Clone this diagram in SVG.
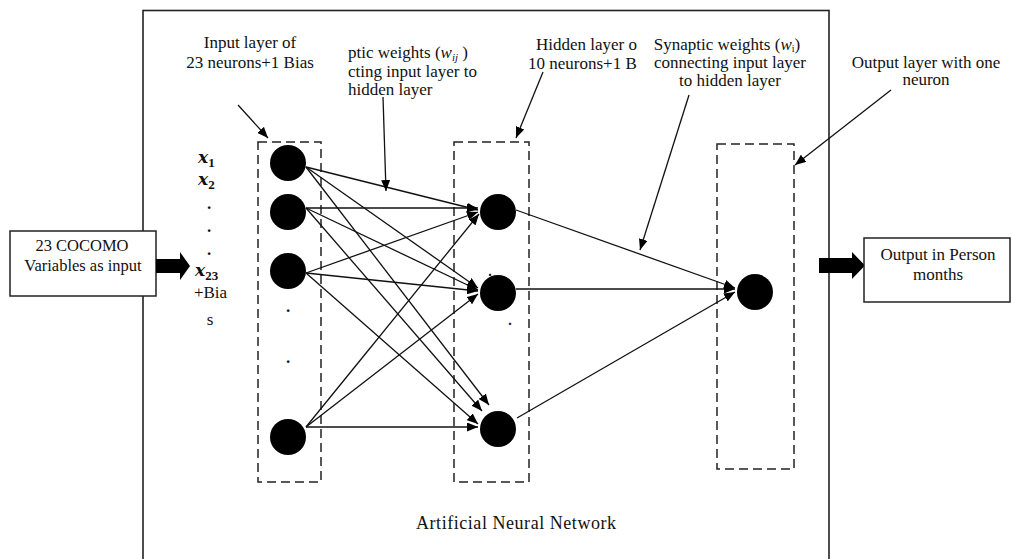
<svg xmlns="http://www.w3.org/2000/svg" width="1012" height="559" viewBox="0 0 1012 559">
<defs>
<style>
text{font-family:"Liberation Serif","Times New Roman",serif;fill:#111;font-size:17px}
.c{text-anchor:middle}
.bx{font-size:16.5px}
.xv{font-family:"DejaVu Serif","Liberation Serif",serif;font-weight:bold;font-style:italic;font-size:17px}
.sub{font-family:"Liberation Serif",serif;font-weight:bold;font-style:normal;font-size:13px}
.it{font-style:italic}
.dot{font-weight:bold;font-size:17px;text-anchor:middle}
.frame{fill:none;stroke:#222;stroke-width:1.6}
.box{fill:#fff;stroke:#222;stroke-width:1.5}
.dash{fill:none;stroke:#222;stroke-width:1.5;stroke-dasharray:9 5}
.neuron{fill:#000}
.ln{stroke:#111;stroke-width:1.3;fill:none;marker-end:url(#arr)}
.bar{fill:#000}
</style>
<marker id="arr" markerUnits="userSpaceOnUse" markerWidth="11" markerHeight="9" viewBox="0 0 11 9" refX="11" refY="4.5" orient="auto">
<path d="M0,0 L11,4.5 L0,9 z" fill="#000"/>
</marker>
</defs>
<rect x="0" y="0" width="1012" height="559" fill="#fff"/>

<g id="frame">
<rect class="frame" x="143" y="10.5" width="686" height="570"/>
<text class="c" x="516" y="529" textLength="200" lengthAdjust="spacing" style="font-size:18px">Artificial Neural Network</text>
</g>

<g id="input-box">
<rect class="box" x="10" y="231" width="146" height="65"/>
<text class="c bx" x="82" y="251">23 COCOMO</text>
<text class="c bx" x="83" y="271">Variables as input</text>
<polygon class="bar" points="156,259 180,259 180,252 190,266 180,280 180,273 156,273"/>
</g>

<g id="input-labels">
<text class="xv" x="198" y="163">x<tspan class="sub" dy="4">1</tspan></text>
<text class="xv" x="198" y="185">x<tspan class="sub" dy="4">2</tspan></text>
<text class="dot" x="209" y="209">.</text>
<text class="dot" x="209" y="232">.</text>
<text class="dot" x="209" y="255">.</text>
<text class="xv" x="195" y="276">x<tspan class="sub" dy="4">23</tspan></text>
<text class="c" x="210.5" y="298">+Bia</text>
<text class="c" x="210" y="325">s</text>
</g>

<g id="input-layer">
<rect class="dash" x="258" y="142" width="63" height="340"/>
<circle class="neuron" cx="288" cy="163" r="18"/>
<circle class="neuron" cx="288" cy="212" r="18"/>
<circle class="neuron" cx="288" cy="271" r="18"/>
<text class="dot" x="288" y="312">.</text>
<text class="dot" x="288" y="363">.</text>
<circle class="neuron" cx="288" cy="437" r="18"/>
</g>

<g id="hidden-layer">
<rect class="dash" x="454" y="142" width="75" height="340"/>
<circle class="neuron" cx="498" cy="212" r="18"/>
<circle class="neuron" cx="498" cy="293" r="18"/>
<circle class="neuron" cx="498" cy="429" r="18"/>
<text class="dot" x="490" y="276" style="font-size:14px">.</text>
<text class="dot" x="510" y="325" style="font-size:14px">.</text>
</g>

<g id="output-layer">
<rect class="dash" x="717" y="144" width="77" height="325"/>
<circle class="neuron" cx="755" cy="292" r="18"/>
</g>

<g id="output-box">
<polygon class="bar" points="819,258 852,258 852,252 865,265.5 852,279 852,273 819,273"/>
<rect class="box" x="864" y="238" width="146" height="64"/>
<text class="c" x="938" y="260">Output in Person</text>
<text class="c" x="938" y="280">months</text>
</g>

<g id="label-input">
<text class="c" x="250" y="48">Input layer of</text>
<text class="c" x="250" y="68">23 neurons+1 Bias</text>
</g>

<g id="label-wij">
<text x="348" y="58">ptic weights (<tspan class="it">w</tspan><tspan class="it" style="font-size:11px" dy="3">ij</tspan><tspan dy="-3"> )</tspan></text>
<text x="348" y="77">cting input layer to</text>
<text x="348" y="95">hidden layer</text>
</g>

<g id="label-hidden">
<text x="536" y="50">Hidden layer o</text>
<text x="528" y="69">10 neurons+1 B</text>
</g>

<g id="label-wi">
<text class="c" x="727" y="50">Synaptic weights (<tspan class="it">w</tspan><tspan style="font-size:10px" dy="2">i</tspan><tspan dy="-2">)</tspan></text>
<text class="c" x="730" y="68">connecting input layer</text>
<text class="c" x="730" y="86">to hidden layer</text>
</g>

<g id="label-output">
<text class="c" x="926" y="68">Output layer with one</text>
<text class="c" x="926" y="85">neuron</text>
</g>

<g id="connectors">
<line class="ln" x1="306" y1="167" x2="478" y2="210"/>
<line class="ln" x1="306" y1="167" x2="478" y2="288"/>
<line class="ln" x1="306" y1="167" x2="489" y2="405"/>
<line class="ln" x1="306" y1="208" x2="478" y2="208"/>
<line class="ln" x1="306" y1="208" x2="478" y2="290"/>
<line class="ln" x1="306" y1="208" x2="482" y2="411"/>
<line class="ln" x1="306" y1="273" x2="478" y2="212"/>
<line class="ln" x1="306" y1="273" x2="478" y2="291"/>
<line class="ln" x1="306" y1="273" x2="478" y2="424"/>
<line class="ln" x1="306" y1="427" x2="479" y2="214"/>
<line class="ln" x1="306" y1="427" x2="478" y2="294"/>
<line class="ln" x1="306" y1="427" x2="478" y2="427"/>
<line class="ln" x1="516" y1="210" x2="735" y2="288"/>
<line class="ln" x1="516" y1="289" x2="735" y2="289"/>
<line class="ln" x1="517" y1="418" x2="735" y2="292"/>
<line class="ln" x1="238" y1="105" x2="268" y2="138"/>
<line class="ln" x1="383" y1="97" x2="386" y2="191"/>
<line class="ln" x1="543" y1="72" x2="516" y2="138"/>
<line class="ln" x1="689" y1="95" x2="640" y2="250"/>
<line class="ln" x1="891" y1="90" x2="795" y2="165"/>
</g>
</svg>
